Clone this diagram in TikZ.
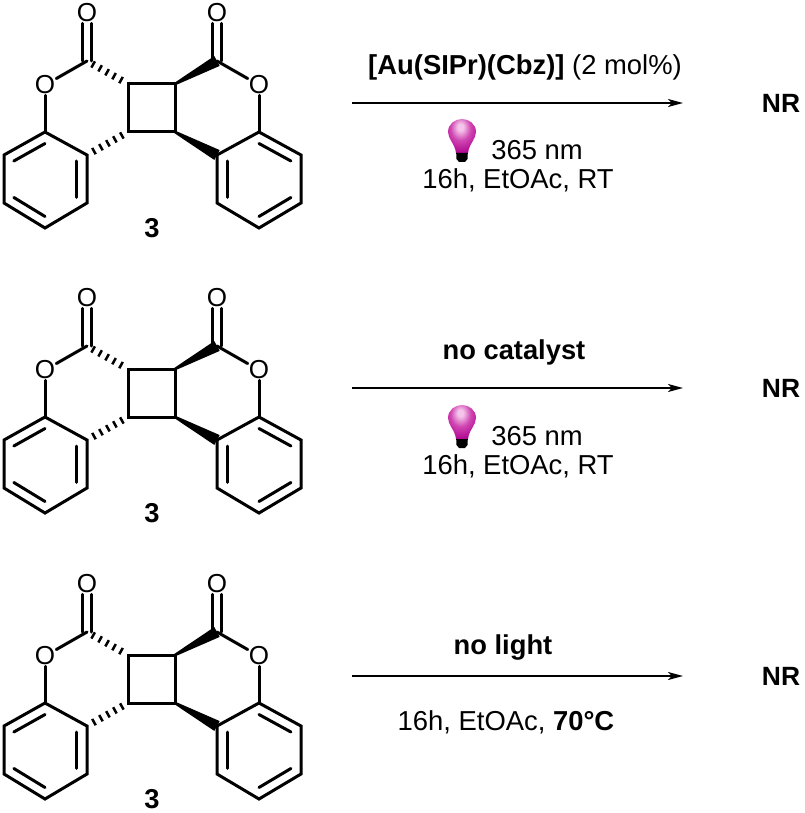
\documentclass[tikz,border=0pt]{standalone}
\usepackage{fontspec}
\setmainfont{Liberation Sans}
\usetikzlibrary{calc,arrows.meta}
\definecolor{bulbhigh}{RGB}{244,196,234}
\definecolor{bulbmid}{RGB}{208,70,178}
\definecolor{bulbmain}{RGB}{172,0,140}
\pgfdeclareradialshading{bulbglow}{\pgfpoint{-3bp}{14bp}}{%
    color(0bp)=(bulbhigh); color(5bp)=(bulbhigh); color(18bp)=(bulbmid); color(36bp)=(bulbmain); color(100bp)=(bulbmain)}
\tikzset{
    bond/.style={line width=3pt,line cap=round,line join=miter},
    atom/.style={inner sep=1pt,font=\fontsize{26}{30}\selectfont},
    cond/.style={inner sep=0pt,font=\fontsize{27.4}{32}\selectfont},
    reagent/.style={inner sep=0pt,font=\fontsize{27.3}{32}\selectfont\bfseries},
    product/.style={inner sep=0pt,font=\fontsize{26.4}{31}\selectfont\bfseries},
    rxnarrow/.style={line width=1.3pt,-{Stealth[length=15pt,width=8pt,inset=4pt]}}
}
% wedge: narrow end first
\newcommand{\wedgebond}[2]{
    \fill ($(#1)!1.3pt!90:(#2)$) -- ($(#1)!1.3pt!-90:(#2)$) -- ($(#2)!5.6pt!90:(#1)$) -- ($(#2)!5.6pt!-90:(#1)$) -- cycle;
}
\newcommand{\hashbond}[2]{
    \foreach \t in {.15,.32,.49,.66,.83} {
        \draw[line width=2.5pt] ($(#1)!\t!(#2)!3.6pt!90:(#2)$) -- ($(#1)!\t!(#2)!3.6pt!-90:(#2)$);
    }
}
\newcommand{\innerbond}[3]{
    \draw[bond] ($(#1)!.24!(#3)$) -- ($(#2)!.24!(#3)$);
}
\newcommand{\lightbulb}[2]{
    \begin{scope}[shift={(#1,#2)}]
        \shade[shading=bulbglow] (-6,34) .. controls (-7,25) and (-14,20) .. (-14,13)
            .. controls (-14,5) and (-7,0) .. (0,0)
            .. controls (7,0) and (14,5) .. (14,13)
            .. controls (14,20) and (7,25) .. (6,34) -- cycle;
        \fill (-5.8,34) -- (5.8,34) -- (5.5,40) -- (3,43) -- (-3,43) -- (-5.5,40) -- cycle;
    \end{scope}
}
\begin{document}
\begin{tikzpicture}[x=1pt,y=-1pt]
    \useasboundingbox (0,0) rectangle (804,813);
    % the three molecules
    \foreach \row/\dy in {a/0,b/285,c/571} {
        \begin{scope}[yshift=-\dy pt,name prefix=\row-]
            \node[atom] (otl) at (87,13) {O};
            \node[atom] (otr) at (217,13) {O};
            \node[atom] (ol) at (45,85) {O};
            \node[atom] (or) at (259,85) {O};
            \coordinate (cl) at (87,61);
            \coordinate (cr) at (217,61);
            \coordinate (q1) at (128,84);
            \coordinate (q2) at (175,84);
            \coordinate (q3) at (175,132);
            \coordinate (q4) at (128,132);
            \coordinate (l1) at (45,132);
            \coordinate (l2) at (87,155);
            \coordinate (l3) at (87,203);
            \coordinate (l4) at (45,228);
            \coordinate (l5) at (4,203);
            \coordinate (l6) at (4,155);
            \coordinate (lc) at (45,180);
            \coordinate (r1) at (259,132);
            \coordinate (r2) at (301,155);
            \coordinate (r3) at (301,203);
            \coordinate (r4) at (259,228);
            \coordinate (r5) at (217,203);
            \coordinate (r6) at (217,155);
            \coordinate (rc) at (259,180);
            \draw[bond] (q1) -- (q2) -- (q3) -- (q4) -- cycle;
            \draw[bond] (l1) -- (l2) -- (l3) -- (l4) -- (l5) -- (l6) -- cycle;
            \draw[bond] (r1) -- (r2) -- (r3) -- (r4) -- (r5) -- (r6) -- cycle;
            \innerbond{l1}{l6}{lc}
            \innerbond{l2}{l3}{lc}
            \innerbond{l4}{l5}{lc}
            \innerbond{r1}{r2}{rc}
            \innerbond{r3}{r4}{rc}
            \innerbond{r5}{r6}{rc}
            \draw[bond] (ol) -- (cl);
            \draw[bond] (ol) -- (l1);
            \draw[bond] (or) -- (cr);
            \draw[bond] (or) -- (r1);
            \draw[bond] ([xshift=-4.7pt]otl.south) -- ([xshift=-4.7pt]cl);
            \draw[bond] ([xshift=4.7pt]otl.south) -- ([xshift=4.7pt]cl);
            \draw[bond] ([xshift=-4.7pt]otr.south) -- ([xshift=-4.7pt]cr);
            \draw[bond] ([xshift=4.7pt]otr.south) -- ([xshift=4.7pt]cr);
            \wedgebond{q2}{cr}
            \wedgebond{q3}{r6}
            \hashbond{cl}{q1}
            \hashbond{q4}{l2}
            \node[reagent] (num) at (152,228) {3};
        \end{scope}
    }
    % arrows
    \foreach \row/\ya in {a/103,b/388,c/676} {
        \coordinate (\row-start) at (352,\ya);
        \coordinate (\row-end) at (683,\ya);
        \draw[rxnarrow] (\row-start) -- (\row-end);
    }
    \node[product] (nra) at (781,103) {NR};
    \node[product] (nrb) at (781,388) {NR};
    \node[product] (nrc) at (781,676) {NR};
    % conditions
    \node[cond] (cata) at (525,67) {\textbf{[Au(SIPr)(Cbz)]} (2 mol\%)};
    \lightbulb{462}{119}
    \node[cond] (nma) at (537,150) {365 nm};
    \node[cond] (solva) at (518,180) {16h, EtOAc, RT};
    \node[reagent] (catb) at (514,352) {no catalyst};
    \lightbulb{462}{405}
    \node[cond] (nmb) at (537,436) {365 nm};
    \node[cond] (solvb) at (518,466) {16h, EtOAc, RT};
    \node[reagent] (catc) at (503,647) {no light};
    \node[cond] (solvc) at (506,722) {16h, EtOAc, \textbf{70°C}};
\end{tikzpicture}
\end{document}
